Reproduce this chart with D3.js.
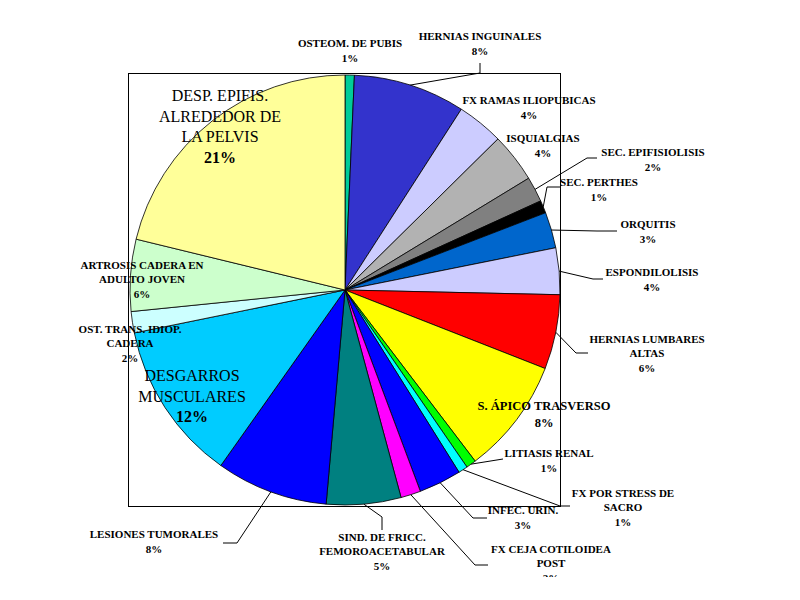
<!DOCTYPE html>
<html>
<head>
<meta charset="utf-8">
<script src="https://cdn.jsdelivr.net/npm/d3@7"></script>
<style>
  html, body { margin: 0; padding: 0; background: #fff; }
  svg { display: block; }
</style>
</head>
<body>
<svg id="chart" width="800" height="600"></svg>
<script>
// ---- data ----
const categories = [
  "OSTEOM. DE PUBIS", "HERNIAS INGUINALES", "FX RAMAS ILIOPUBICAS", "ISQUIALGIAS",
  "SEC.  EPIFISIOLISIS", "SEC. PERTHES", "ORQUITIS", "ESPONDILOLISIS",
  "HERNIAS LUMBARES ALTAS", "S. ÁPICO TRASVERSO", "LITIASIS RENAL", "FX POR STRESS DE SACRO",
  "INFEC. URIN.", "FX  CEJA COTILOIDEA POST", "SIND. DE FRICC. FEMOROACETABULAR",
  "LESIONES TUMORALES", "DESGARROS MUSCULARES", "OST. TRANS. IDIOP. CADERA",
  "ARTROSIS CADERA EN ADULTO JOVEN", "DESP. EPIFIS. ALREDEDOR DE LA PELVIS"
];
const values = [0.7, 8.4, 3.5, 3.7, 1.9, 0.95, 2.7, 3.5, 5.6, 8.7, 0.75, 0.7, 3.2, 1.5, 5.6, 8.4, 12.0, 1.6, 5.4, 21.2];
const percentLabels = ["1%", "8%", "4%", "4%", "2%", "1%", "3%", "4%", "6%", "8%", "1%", "1%", "3%", "2%", "5%", "8%", "12%", "2%", "6%", "21%"];
const labelLines = [
  ["OSTEOM. DE PUBIS"], ["HERNIAS INGUINALES"], ["FX RAMAS ILIOPUBICAS"], ["ISQUIALGIAS"],
  ["SEC.  EPIFISIOLISIS"], ["SEC. PERTHES"], ["ORQUITIS"], ["ESPONDILOLISIS"],
  ["HERNIAS LUMBARES", "ALTAS"], ["S. ÁPICO TRASVERSO"], ["LITIASIS RENAL"], ["FX POR STRESS DE", "SACRO"],
  ["INFEC. URIN."], ["FX  CEJA COTILOIDEA", "POST"], ["SIND. DE FRICC.", "FEMOROACETABULAR"],
  ["LESIONES TUMORALES"], ["DESGARROS", "MUSCULARES"], ["OST. TRANS. IDIOP.", "CADERA"],
  ["ARTROSIS CADERA EN", "ADULTO JOVEN"], ["DESP. EPIFIS.", "ALREDEDOR DE", "LA PELVIS"]
];
const colors = [
  "#00CC99", "#3333CC", "#CCCCFF", "#B2B2B2", "#808080", "#000000", "#0066CC", "#CCCCFF",
  "#FF0000", "#FFFF00", "#00FF00", "#00FFFF", "#0000FF", "#FF00FF", "#008080",
  "#0000FF", "#00CCFF", "#CCFFFF", "#CCFFCC", "#FFFF99"
];

// ---- layout ----
const cx = 345, cy = 290, R = 215;
// label anchor (center x, first baseline y), font size, and leader elbow/end points
const layout = [
  {x: 350, y: 47, fs: 11},
  {x: 480, y: 40, fs: 11, lead: [[480, 73], [480, 63]]},
  {x: 529, y: 104, fs: 11},
  {x: 543, y: 142, fs: 11},
  {x: 653, y: 156, fs: 11, lead: [[587, 158], [597, 158]]},
  {x: 599, y: 186, fs: 11, lead: [[547, 187], [560, 187]]},
  {x: 648, y: 228, fs: 11, lead: [[597, 231], [617, 231]]},
  {x: 652, y: 276, fs: 11, lead: [[593, 279], [603, 279]]},
  {x: 647, y: 343, fs: 11, lead: [[576, 353], [588, 353]]},
  {x: 544, y: 410, fs: 12.5},
  {x: 549, y: 457, fs: 11, lead: [[503, 459]]},
  {x: 623, y: 497, fs: 11, lead: [[560, 506], [570, 506]]},
  {x: 523, y: 514, fs: 11, lead: [[473, 518], [487, 518]]},
  {x: 551, y: 553, fs: 11, lead: [[475, 565], [488, 565]]},
  {x: 382, y: 541, fs: 11, lead: [[382, 517], [382, 530]]},
  {x: 154, y: 538, fs: 11, lead: [[237, 543], [223, 543]]},
  {x: 192, y: 381, fs: 16, big: true},
  {x: 130, y: 333, fs: 11},
  {x: 142, y: 269, fs: 11},
  {x: 220, y: 101, fs: 16, big: true}
];

const svg = d3.select("#chart");
svg.append("defs").append("clipPath").attr("id", "clip")
  .append("rect").attr("x", 0).attr("y", 0).attr("width", 800).attr("height", 577);
const root = svg.append("g").attr("clip-path", "url(#clip)");

// plot-area border
root.append("rect")
  .attr("x", 128.5).attr("y", 73.5).attr("width", 432).attr("height", 433)
  .attr("fill", "none").attr("stroke", "#000").attr("stroke-width", 1);

const pie = d3.pie().sort(null).value(d => d).startAngle(0).endAngle(2 * Math.PI);
const arcs = pie(values);
const arc = d3.arc().innerRadius(0).outerRadius(R);
const edgeArc = d3.arc().innerRadius(R).outerRadius(R);

const g = root.append("g").attr("transform", `translate(${cx},${cy})`);
g.selectAll("path.slice").data(arcs).join("path")
  .attr("class", "slice")
  .attr("d", arc)
  .attr("fill", (d, i) => colors[i])
  .attr("stroke", "#000")
  .attr("stroke-width", 0.8)
  .attr("stroke-linejoin", "round");

// leader lines
const line = d3.line();
arcs.forEach((d, i) => {
  const L = layout[i];
  if (!L.lead) return;
  const c = edgeArc.centroid(d);
  const pts = [[c[0] + cx, c[1] + cy]].concat(L.lead);
  root.append("path")
    .attr("d", line(pts))
    .attr("fill", "none")
    .attr("stroke", "#000")
    .attr("stroke-width", 1);
});

// labels
const fontFamily = "'Liberation Serif', 'Times New Roman', serif";
categories.forEach((cat, i) => {
  const L = layout[i];
  const lines = labelLines[i];
  const lh = L.big ? 20.5 : Math.round(L.fs * 1.3);
  const t = root.append("text")
    .attr("x", L.x).attr("y", L.y)
    .attr("text-anchor", "middle")
    .attr("font-family", fontFamily)
    .attr("font-size", L.fs + "px")
    .attr("fill", "#000");
  lines.forEach((ln, k) => {
    t.append("tspan").attr("x", L.x).attr("y", L.y + k * lh)
      .attr("font-weight", L.big ? "normal" : "bold")
      .text(ln);
  });
  t.append("tspan").attr("x", L.x).attr("y", L.y + lines.length * lh + (L.big ? 0 : 1))
    .attr("font-weight", "bold")
    .text(percentLabels[i]);
});
</script>
</body>
</html>
